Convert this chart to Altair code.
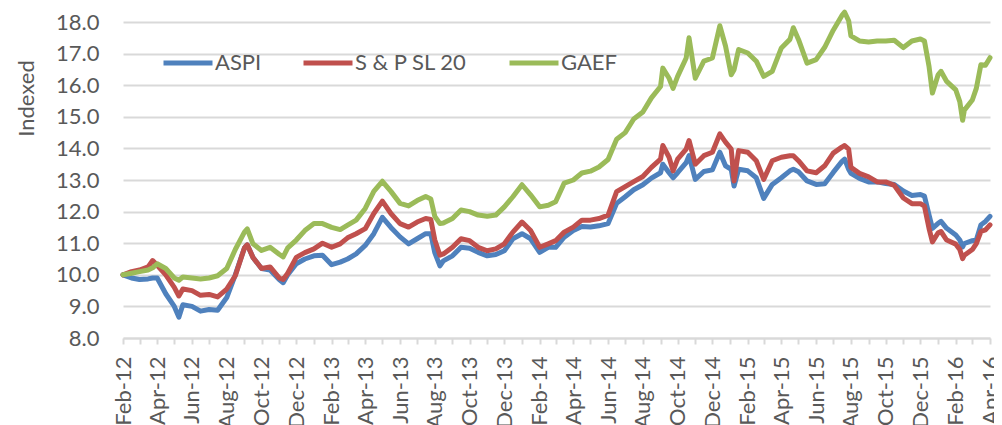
import altair as alt
import pandas as pd

dates = [
    "2012-02-01", "2012-02-16", "2012-03-01", "2012-03-16", "2012-03-24", "2012-04-01", "2012-04-16",
    "2012-05-01", "2012-05-09", "2012-05-16", "2012-06-01", "2012-06-16", "2012-07-01", "2012-07-16",
    "2012-08-01", "2012-08-16", "2012-09-01", "2012-09-06", "2012-09-16", "2012-10-01", "2012-10-16",
    "2012-11-01", "2012-11-08", "2012-11-16", "2012-12-01", "2012-12-16",
    "2013-01-01", "2013-01-16", "2013-02-01", "2013-02-16", "2013-03-01", "2013-03-16", "2013-04-01",
    "2013-04-16", "2013-05-01", "2013-05-16", "2013-06-01", "2013-06-16", "2013-07-01", "2013-07-16",
    "2013-07-25", "2013-08-01", "2013-08-10", "2013-08-16", "2013-09-01", "2013-09-16", "2013-10-01",
    "2013-10-16", "2013-11-01", "2013-11-16", "2013-12-01", "2013-12-16",
    "2014-01-01", "2014-01-16", "2014-02-01", "2014-02-16", "2014-03-01", "2014-03-16", "2014-04-01",
    "2014-04-16", "2014-05-01", "2014-05-16", "2014-06-01", "2014-06-16", "2014-07-01", "2014-07-16",
    "2014-08-01", "2014-08-16", "2014-09-01", "2014-09-05", "2014-09-16", "2014-09-23", "2014-10-01",
    "2014-10-16", "2014-10-21", "2014-11-01", "2014-11-16", "2014-12-01", "2014-12-14", "2014-12-24",
    "2015-01-03", "2015-01-08", "2015-01-16", "2015-02-01", "2015-02-16", "2015-03-01", "2015-03-16",
    "2015-04-01", "2015-04-16", "2015-04-22", "2015-05-01", "2015-05-16", "2015-06-01", "2015-06-16",
    "2015-07-01", "2015-07-16", "2015-07-21", "2015-07-28", "2015-08-01", "2015-08-16", "2015-09-01",
    "2015-09-16", "2015-10-01", "2015-10-16", "2015-11-01", "2015-11-16", "2015-12-01", "2015-12-08",
    "2015-12-16", "2015-12-22",
    "2016-01-01", "2016-01-06", "2016-01-16", "2016-02-01", "2016-02-08", "2016-02-13", "2016-02-16",
    "2016-03-01", "2016-03-08", "2016-03-16", "2016-03-24", "2016-04-01",
]

aspi = [
    10.00, 9.90, 9.85, 9.87, 9.90, 9.90, 9.40,
    9.00, 8.66, 9.05, 9.00, 8.85, 8.90, 8.88,
    9.28, 10.00, 10.85, 10.95, 10.55, 10.20, 10.15,
    9.85, 9.75, 10.00, 10.35, 10.50,
    10.60, 10.62, 10.32, 10.40, 10.50, 10.66, 10.93,
    11.30, 11.82, 11.50, 11.20, 10.98, 11.14, 11.30,
    11.30, 10.70, 10.28, 10.44, 10.60, 10.87, 10.84,
    10.71, 10.60, 10.64, 10.76, 11.14,
    11.30, 11.14, 10.71, 10.87, 10.87, 11.19, 11.40,
    11.53, 11.51, 11.55, 11.62, 12.26, 12.47, 12.69,
    12.85, 13.06, 13.23, 13.50, 13.23, 13.07, 13.23,
    13.55, 13.77, 13.02, 13.27, 13.32, 13.88, 13.45,
    13.34, 12.81, 13.34, 13.29, 13.07, 12.42, 12.86,
    13.07, 13.29, 13.34, 13.26, 12.97, 12.86, 12.88,
    13.24, 13.58, 13.66, 13.34, 13.21, 13.05, 12.94,
    12.94, 12.89, 12.86, 12.65, 12.51, 12.54, 12.49,
    11.90, 11.47,
    11.63, 11.69, 11.47, 11.26, 11.10, 10.88, 10.99,
    11.08, 11.10, 11.58, 11.69, 11.85,
]

sp_sl20 = [
    10.00, 10.10, 10.15, 10.25, 10.45, 10.30, 10.00,
    9.60, 9.33, 9.55, 9.50, 9.35, 9.38, 9.30,
    9.55, 9.97, 10.85, 10.95, 10.55, 10.20, 10.25,
    9.90, 9.85, 10.05, 10.55, 10.70,
    10.82, 11.00, 10.87, 10.98, 11.17, 11.30, 11.46,
    11.94, 12.33, 11.94, 11.62, 11.51, 11.67, 11.78,
    11.75, 11.10, 10.62, 10.66, 10.87, 11.14, 11.08,
    10.87, 10.76, 10.82, 10.98, 11.35,
    11.67, 11.40, 10.87, 10.98, 11.08, 11.35, 11.51,
    11.73, 11.73, 11.78, 11.89, 12.63, 12.79, 12.95,
    13.11, 13.40, 13.66, 14.09, 13.72, 13.29, 13.66,
    13.98, 14.25, 13.50, 13.77, 13.88, 14.46, 14.20,
    13.98, 12.97, 13.93, 13.88, 13.61, 13.02, 13.61,
    13.72, 13.77, 13.77, 13.61, 13.29, 13.23, 13.45,
    13.85, 14.04, 14.09, 13.98, 13.40, 13.21, 13.10,
    12.94, 12.94, 12.83, 12.43, 12.25, 12.25, 12.17,
    11.47, 11.04,
    11.33, 11.37, 11.10, 10.97, 10.80, 10.51, 10.62,
    10.80, 10.99, 11.37, 11.42, 11.58,
]

gaef = [
    10.00, 10.05, 10.10, 10.15, 10.22, 10.35, 10.20,
    9.90, 9.83, 9.93, 9.90, 9.87, 9.90, 9.97,
    10.20, 10.80, 11.35, 11.45, 10.98, 10.77, 10.87,
    10.65, 10.57, 10.85, 11.10, 11.40,
    11.62, 11.62, 11.50, 11.43, 11.57, 11.73, 12.10,
    12.64, 12.96, 12.64, 12.26, 12.18, 12.35, 12.48,
    12.40, 11.85, 11.62, 11.64, 11.78, 12.05, 12.00,
    11.89, 11.85, 11.89, 12.15, 12.47,
    12.85, 12.53, 12.15, 12.20, 12.31, 12.90, 13.00,
    13.22, 13.28, 13.41, 13.65, 14.29, 14.50, 14.93,
    15.15, 15.60, 15.96, 16.54, 16.22, 15.90, 16.28,
    16.86, 17.50, 16.22, 16.76, 16.86, 17.88, 17.24,
    16.33, 16.49, 17.13, 17.02, 16.76, 16.28, 16.44,
    17.18, 17.45, 17.82, 17.45, 16.70, 16.81, 17.20,
    17.74, 18.20, 18.31, 18.04, 17.56, 17.40, 17.37,
    17.40, 17.40, 17.42, 17.19, 17.40, 17.46, 17.40,
    16.60, 15.75,
    16.33, 16.44, 16.12, 15.85, 15.48, 14.89, 15.21,
    15.53, 15.90, 16.65, 16.63, 16.87,
]

series_names = ["ASPI", "S & P SL 20", "GAEF"]
series_colors = ["#4F81BD", "#C0504D", "#9BBB59"]
y_ticks = [8, 9, 10, 11, 12, 13, 14, 15, 16, 17, 18]

frames = []
for name, vals in zip(series_names, [aspi, sp_sl20, gaef]):
    frames.append(pd.DataFrame({"date": dates, "value": vals, "series": name}))
df = pd.concat(frames, ignore_index=True)

month_ticks = []
y, m = 2012, 2
while (y, m) <= (2016, 4):
    month_ticks.append(alt.DateTime(year=y, month=m, date=1, utc=True))
    m += 1
    if m > 12:
        m = 1
        y += 1

FONT = "Lato"
GREY = "#595959"

x_enc = alt.X(
    "date:T",
    scale=alt.Scale(
        type="utc",
        domain=[alt.DateTime(year=2012, month=2, date=1, utc=True),
                alt.DateTime(year=2016, month=4, date=1, utc=True)],
    ),
    axis=alt.Axis(
        values=month_ticks,
        labelExpr="utcmonth(datum.value) % 2 == 1 ? utcFormat(datum.value, '%b-%y') : ''",
        labelAngle=-90,
        labelAlign="right",
        labelBaseline="middle",
        labelPadding=12,
        labelFontSize=22,
        labelOverlap=False,
        labelBound=False,
        tickSize=6,
        tickColor="#D9D9D9",
        tickWidth=2,
        domainColor="#D9D9D9",
        domainWidth=2,
        grid=False,
        title=None,
    ),
)

y_enc = alt.Y(
    "value:Q",
    scale=alt.Scale(domain=[8, 18], nice=False, zero=False),
    axis=alt.Axis(
        values=y_ticks,
        format=".1f",
        grid=True,
        gridColor="#D9D9D9",
        gridWidth=2,
        domain=False,
        ticks=False,
        labelPadding=24,
        labelFontSize=22,
        title="Indexed",
        titleFontSize=22,
        titleFontWeight="normal",
        titleLimit=400,
        titleAngle=-90,
        titleX=-90,
        titleY=76,
        titleAlign="center",
        titleBaseline="alphabetic",
    ),
)

color_enc = alt.Color(
    "series:N",
    scale=alt.Scale(domain=series_names, range=series_colors),
    legend=alt.Legend(
        orient="none",
        legendX=38,
        legendY=14,
        direction="horizontal",
        title=None,
        symbolType="stroke",
        symbolSize=2401,
        symbolStrokeWidth=5,
        labelFontSize=22,
        labelFont=FONT,
        labelColor=GREY,
        columnPadding=31,
        labelOffset=0,
        padding=0,
    ),
)

layers = []
for name in series_names:
    layers.append(
        alt.Chart(df)
        .transform_filter(alt.datum.series == name)
        .mark_line(strokeWidth=5, strokeCap="round", strokeJoin="round")
        .encode(x=x_enc, y=y_enc, color=color_enc)
    )

chart = (
    alt.layer(*layers)
    .properties(
        width=867,
        height=316,
        autosize=alt.AutoSizeParams(type="none"),
        padding={"left": 115, "top": 14, "right": 4, "bottom": 100},
    )
    .configure_view(stroke=None)
    .configure_axis(labelFont=FONT, titleFont=FONT, labelColor=GREY, titleColor=GREY)
)

chart.save("out.html", embed_options={"renderer": "svg", "actions": False})
